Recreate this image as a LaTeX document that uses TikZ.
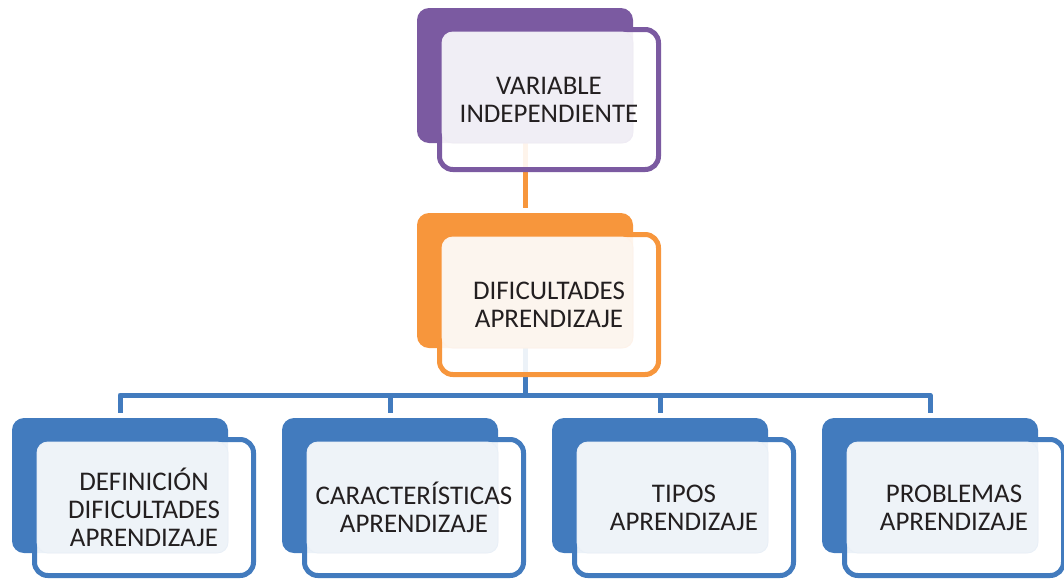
\documentclass[tikz,border=0pt]{standalone}
\usepackage{fontspec}
\setmainfont{Carlito}
\usetikzlibrary{backgrounds}
\definecolor{cpur}{HTML}{7B5AA1}
\definecolor{cora}{HTML}{F7963C}
\definecolor{cblu}{HTML}{427BBE}
\definecolor{tpur}{HTML}{F0EEF5}
\definecolor{tora}{HTML}{FCF5EE}
\definecolor{tblu}{HTML}{EEF3F8}
\definecolor{ctext}{HTML}{231F20}
\tikzset{
  backbox/.style={rectangle, rounded corners=9pt, minimum width=162pt, minimum height=101.25pt, inner sep=0pt, outer sep=0pt, draw=none},
  outbox/.style={rectangle, rounded corners=10pt, minimum width=164.25pt, line width=3.75pt, fill=white, fill opacity=0.9, inner sep=0pt, outer sep=0pt},
  textbox/.style={rounded corners=8pt, line width=0.6pt},
  lbl/.style={align=center, text=ctext, font=\fontsize{20.2}{21}\selectfont, inner sep=0pt},
  conn/.style={line width=3.75pt, line join=round},
}
\newcommand\smbox[7]{%
  \node[backbox, fill=#4] (#1b) at (#2+108,#3+67.5) {};
  \node[outbox, draw=#4, minimum height={#6*0.75pt}] (#1) at (#2+132,#3+21.5+#6/2) {};
  \path[textbox, fill=#5, draw=#4!12] (#2+25,#3+24) rectangle (#2+216,#3+135);
  \node[lbl] (#1t) at (#1.center) {#7};
}
\begin{document}
\begin{tikzpicture}[x=0.75pt,y=-0.75pt]
\useasboundingbox (0,0) rectangle (1064,579);
\smbox{v}{417}{8}{cpur}{tpur}{140}{VARIABLE\\INDEPENDIENTE}
\smbox{d}{417}{213}{cora}{tora}{140}{DIFICULTADES\\APRENDIZAJE}
\smbox{ca}{12}{418}{cblu}{tblu}{136}{DEFINICIÓN\\DIFICULTADES\\APRENDIZAJE}
\smbox{cb}{282}{418}{cblu}{tblu}{136}{CARACTERÍSTICAS\\APRENDIZAJE}
\smbox{cc}{552}{418}{cblu}{tblu}{136}{TIPOS\\APRENDIZAJE}
\smbox{cd}{822}{418}{cblu}{tblu}{136}{PROBLEMAS\\APRENDIZAJE}
\begin{scope}[on background layer]
  \coordinate (busy) at (0,395);
  \coordinate (bus) at (db.south |- busy);
  \draw[conn, draw=cora, shorten >=3.75pt] (vb.south) -- (db.north);
  \draw[conn, draw=cblu] (db.south) -- (bus);
  \foreach \c in {ca,cb,cc,cd} \draw[conn, draw=cblu, shorten >=3.75pt] (bus) -| (\c b.north);
\end{scope}
\end{tikzpicture}
\end{document}
